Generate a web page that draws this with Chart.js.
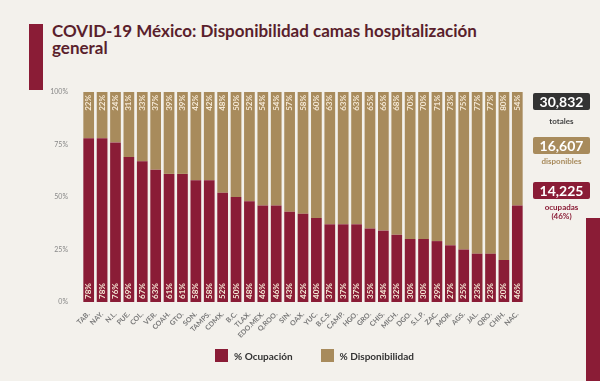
<!DOCTYPE html>
<html>
<head>
<meta charset="utf-8">
<script src="https://cdn.jsdelivr.net/npm/chart.js@4"></script>
<style>
  html, body { margin: 0; padding: 0; }
  body { width: 600px; height: 381px; background: #f3f1ec; position: relative; overflow: hidden; font-family: Lato, "Open Sans", sans-serif; }
  #wrap { position: absolute; left: 0; top: 0; width: 600px; height: 381px; }
  .accent { position: absolute; background: #8a1c36; }
  #title { position: absolute; left: 52px; top: 22px; font-size: 17px; font-weight: 700; line-height: 17px; color: #5a1f2c; }
  .box { position: absolute; left: 533px; width: 57px; height: 17px; color: #fff; font-weight: 700; font-size: 14px; line-height: 17px; text-align: center; border-radius: 2px; }
  .cap { position: absolute; left: 528px; width: 67px; text-align: center; font-size: 8px; font-weight: 700; line-height: 9px; }
  #legend { position: absolute; top: 349px; left: 215px; display: flex; font-size: 10px; font-weight: 700; color: #333; }
  #legend span.sw { display: inline-block; width: 13px; height: 13px; margin-right: 6px; vertical-align: middle; }
  #legend div { margin-right: 28px; display: flex; align-items: center; }
</style>
</head>
<body>
<div class="accent" style="left:29px;top:24px;width:14px;height:66px"></div>
<div class="accent" style="left:586px;top:218px;width:14px;height:163px"></div>
<div id="title">COVID-19 México: Disponibilidad camas hospitalización<br>general</div>
<div id="wrap"><canvas id="chart" width="600" height="381"></canvas></div>

<div class="box" style="top:93px;background:#333">30,832</div>
<div class="cap" style="top:117px;color:#444">totales</div>
<div class="box" style="top:137px;background:#a88b5c">16,607</div>
<div class="cap" style="top:157px;color:#a88b5c">disponibles</div>
<div class="box" style="top:182px;background:#8a1c36">14,225</div>
<div class="cap" style="top:203px;color:#8a1c36">ocupadas<br>(46%)</div>

<div id="legend"></div>

<script>
// =====================
// DATA
// =====================
const states = ["TAB.", "NAY.", "N.L.", "PUE.", "COL.", "VER.", "COAH.", "GTO.", "SON.", "TAMPS.",
  "CDMX.", "B.C.", "TLAX.", "EDO.MEX.", "Q.ROO.", "SIN.", "OAX.", "YUC.", "B.C.S.", "CAMP.",
  "HGO.", "GRO.", "CHIS.", "MICH.", "DGO.", "S.L.P.", "ZAC.", "MOR.", "AGS.", "JAL.",
  "QRO.", "CHIH.", "NAC."];
const ocupacion = [78, 78, 76, 69, 67, 63, 61, 61, 58, 58, 52, 50, 48, 46, 46, 43, 42, 40, 37, 37,
  37, 35, 34, 32, 30, 30, 29, 27, 25, 23, 23, 20, 46];
const disponibilidad = [22, 22, 24, 31, 33, 37, 39, 39, 42, 42, 48, 50, 52, 54, 54, 57, 58, 60, 63, 63,
  63, 65, 66, 68, 70, 70, 71, 73, 75, 77, 77, 80, 54];
const yTicks = [0, 25, 50, 75, 100];

const MAROON = "#8a1c36";
const TAN = "#a88b5c";

// =====================
// BAR LABELS
// =====================
const barLabels = {
  id: "barLabels",
  afterDatasetsDraw(chart) {
    const ctx = chart.ctx;
    ctx.save();
    ctx.font = "bold 8px Lato, sans-serif";
    ctx.fillStyle = "#f5e9d6";
    ctx.textBaseline = "middle";
    chart.data.datasets.forEach((ds, di) => {
      chart.getDatasetMeta(di).data.forEach((bar, i) => {
        ctx.save();
        if (di === 0) {
          ctx.translate(bar.x, bar.base - 3);
          ctx.rotate(-Math.PI / 2);
          ctx.textAlign = "left";
        } else {
          ctx.translate(bar.x, bar.y + 3);
          ctx.rotate(-Math.PI / 2);
          ctx.textAlign = "right";
        }
        ctx.fillText(ds.data[i] + "%", 0, 0);
        ctx.restore();
      });
    });
    ctx.restore();
  }
};

// =====================
// CHART
// =====================
const chart = new Chart(document.getElementById("chart"), {
  type: "bar",
  data: {
    labels: states,
    datasets: [
      { label: "% Ocupación", data: ocupacion, backgroundColor: MAROON },
      { label: "% Disponibilidad", data: disponibilidad, backgroundColor: TAN }
    ]
  },
  options: {
    responsive: false,
    animation: false,
    layout: { padding: { left: 0, top: 92, right: 76, bottom: 35 } },
    datasets: { bar: { categoryPercentage: 1, barPercentage: 0.8 } },
    plugins: { legend: { display: false }, tooltip: { enabled: false } },
    scales: {
      x: {
        stacked: true,
        grid: { display: false },
        border: { display: false },
        afterFit: s => { s.height = 44; },
        ticks: {
          minRotation: 45, maxRotation: 45, autoSkip: false, padding: 0,
          color: "#777", font: { size: 7, weight: "bold", family: "Lato" }
        }
      },
      y: {
        stacked: true,
        min: 0, max: 100,
        grid: { display: false },
        border: { display: false },
        afterFit: s => { s.width = 82; },
        afterBuildTicks: s => { s.ticks = yTicks.map(v => ({ value: v })); },
        ticks: {
          padding: 6,
          color: "#888", font: { size: 7, family: "Lato" },
          callback: v => v + "%"
        }
      }
    }
  },
  plugins: [barLabels]
});

// legend
document.getElementById("legend").innerHTML = chart.data.datasets.map(d =>
  `<div><span class="sw" style="background:${d.backgroundColor}"></span>${d.label}</div>`).join("");
</script>
</body>
</html>
